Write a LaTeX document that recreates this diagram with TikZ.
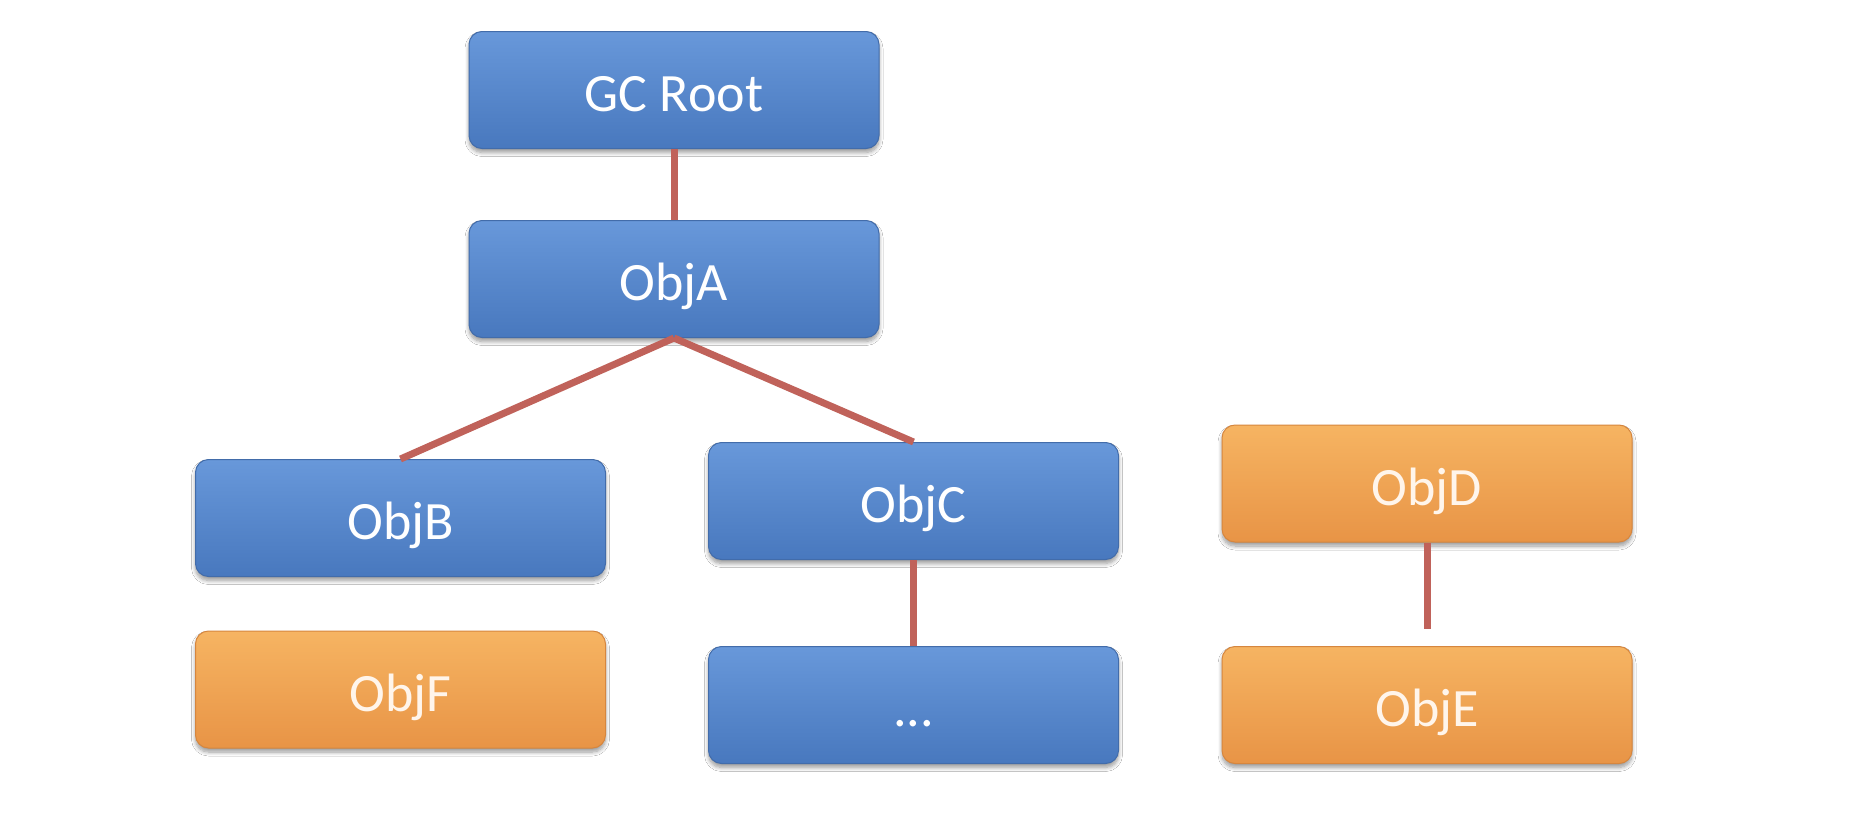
\documentclass[tikz,border=0pt]{standalone}
\usepackage{fontspec}
\setmainfont{Carlito}
\usetikzlibrary{shadows.blur}
\definecolor{bluetop}{RGB}{104,152,218}
\definecolor{bluebot}{RGB}{72,120,190}
\definecolor{blueedge}{RGB}{66,108,170}
\definecolor{orangetop}{RGB}{246,180,98}
\definecolor{orangebot}{RGB}{232,148,70}
\definecolor{orangeedge}{RGB}{214,134,62}
\definecolor{linkcol}{RGB}{192,98,90}
\tikzset{
  objbox/.style={rectangle, rounded corners=13pt, minimum width=410pt, minimum height=117pt,
    inner sep=0pt, text=white, font=\fontsize{54}{60}\selectfont, line width=1pt,
    text height=50pt, text depth=7pt,
    blur shadow={shadow xshift=0pt, shadow yshift=-4pt, shadow blur radius=4pt, shadow opacity=40, shadow blur steps=8}},
  bluebox/.style={objbox, top color=bluetop, bottom color=bluebot, draw=blueedge},
  orangebox/.style={objbox, top color=orangetop, bottom color=orangebot, draw=orangeedge, text=white!92!orange},
  link/.style={draw=linkcol, line width=7pt}
}
\begin{document}
\begin{tikzpicture}[x=1pt,y=-1pt]
\useasboundingbox[fill=white] (0,0) rectangle (1870,822);
\node[bluebox] (root) at (674,90) {GC Root};
\node[bluebox] (a) at (674,279) {ObjA};
\node[bluebox] (b) at (400.5,518) {ObjB};
\node[bluebox] (c) at (913.5,501) {ObjC};
\node[orangebox] (f) at (400.5,689.5) {ObjF};
\node[bluebox] (dots) at (913.5,705) {...};
\node[orangebox] (d) at (1427,483.5) {ObjD};
\node[orangebox] (e) at (1427,705) {ObjE};
\draw[link] (root.south) -- (a.north);
\draw[link] (a.south) -- (b.north);
\draw[link] (a.south) -- (c.north);
\draw[link] (c.south) -- (dots.north);
\draw[link, shorten >=17pt] (d.south) -- (e.north);
\end{tikzpicture}
\end{document}
